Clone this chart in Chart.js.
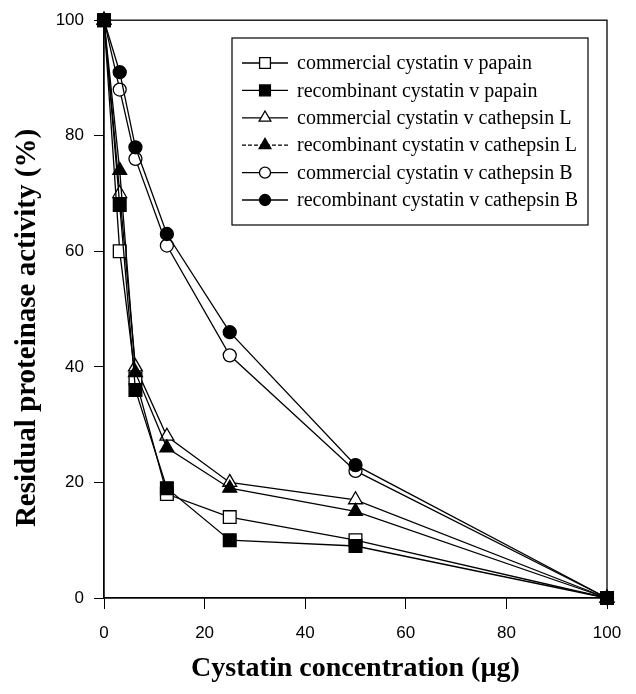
<!DOCTYPE html>
<html>
<head>
<meta charset="utf-8">
<script src="https://cdn.jsdelivr.net/npm/chart.js@4/dist/chart.umd.min.js"></script>
<style>
  html, body { margin: 0; padding: 0; background: #fff; }
  #wrap { width: 636px; height: 694px; position: relative; }
</style>
</head>
<body>
<div id="wrap"><canvas id="grafico"></canvas></div>
<script>
// dados
var concentracoes = [0, 3.125, 6.25, 12.5, 25, 50, 100];
var comPapain     = [100, 60, 38, 18, 14, 10, 0];
var recPapain     = [100, 68, 36, 19, 10, 9, 0];
var comCatL       = [100, 70, 40, 28, 20, 17, 0];
var recCatL       = [100, 74, 39, 26, 19, 15, 0];
var comCatB       = [100, 88, 76, 61, 42, 22, 0];
var recCatB       = [100, 91, 78, 63, 46, 23, 0];

var nomes = [
  "commercial cystatin v papain",
  "recombinant cystatin v papain",
  "commercial cystatin v cathepsin L",
  "recombinant cystatin v cathepsin L",
  "commercial cystatin v cathepsin B",
  "recombinant cystatin v cathepsin B"
];
var valores  = [comPapain, recPapain, comCatL, recCatL, comCatB, recCatB];
var formas   = ["rect", "rect", "triangle", "triangle", "circle", "circle"];
var raios    = [9, 9, 8, 8, 6.5, 6.5];
var cheios   = [false, true, false, true, false, true];
var ticksY   = [0, 20, 40, 60, 80, 100];
var ticksX   = [0, 20, 40, 60, 80, 100];
var tituloX  = "Cystatin concentration (µg)";
var tituloY  = "Residual proteinase activity (%)";

function pontos(serie) {
  return concentracoes.map(function(x, i) { return { x: x, y: serie[i] }; });
}

var datasets = valores.map(function(serie, i) {
  return {
    label: nomes[i],
    data: pontos(serie),
    borderColor: "#000",
    borderWidth: 1.3,
    pointStyle: formas[i],
    pointRadius: raios[i],
    pointBackgroundColor: cheios[i] ? "#000" : "#fff",
    pointBorderColor: "#000",
    pointBorderWidth: 1.3,
    tension: 0,
    fill: false,
    clip: false,
    order: cheios[i] ? 0 : 1
  };
});

// moldura do gráfico + título do eixo Y
var moldura = {
  id: "moldura",
  afterDatasetsDraw: function(chart) {
    var a = chart.chartArea, ctx = chart.ctx;
    ctx.save();
    ctx.strokeStyle = "#000";
    ctx.lineWidth = 1.3;
    ctx.strokeRect(a.left, a.top, a.right - a.left, a.bottom - a.top);

    ctx.translate(35, 328);
    ctx.rotate(-Math.PI / 2);
    ctx.font = "bold 29px 'Liberation Serif', 'Times New Roman', serif";
    ctx.fillStyle = "#000";
    ctx.textAlign = "center";
    ctx.textBaseline = "alphabetic";
    ctx.fillText(tituloY, 0, 0);
    ctx.restore();
  }
};

// legenda em caixa, linha + marcador
var legendaCaixa = {
  id: "legendaCaixa",
  afterDraw: function(chart) {
    var ctx = chart.ctx;
    var x0 = 232, y0 = 38, w = 356, h = 187;
    ctx.save();
    ctx.fillStyle = "#fff";
    ctx.fillRect(x0, y0, w, h);
    ctx.strokeStyle = "#000";
    ctx.lineWidth = 1.2;
    ctx.strokeRect(x0, y0, w, h);
    ctx.font = "20px 'Liberation Serif', 'Times New Roman', serif";
    ctx.textBaseline = "middle";
    for (var i = 0; i < nomes.length; i++) {
      var y = 63 + i * 27.4;
      ctx.strokeStyle = "#000";
      ctx.lineWidth = 1.3;
      ctx.setLineDash(i === 3 ? [4, 2] : []);
      ctx.beginPath();
      ctx.moveTo(242, y);
      ctx.lineTo(288, y);
      ctx.stroke();
      ctx.setLineDash([]);
      ctx.fillStyle = cheios[i] ? "#000" : "#fff";
      Chart.helpers.drawPoint(ctx, {
        pointStyle: formas[i],
        radius: raios[i] * 0.85,
        borderWidth: 1.3,
        rotation: 0
      }, 265, y);
      ctx.fillStyle = "#000";
      ctx.fillText(nomes[i], 297, y + 1);
    }
    ctx.restore();
  }
};

var rotuloFonte = { family: "'Liberation Sans', Arial, sans-serif", size: 17 };
var tituloFonte = { family: "'Liberation Serif', 'Times New Roman', serif", size: 28, weight: "bold" };

new Chart(document.getElementById("grafico"), {
  type: "line",
  data: { datasets: datasets },
  options: {
    responsive: true,
    maintainAspectRatio: false,
    animation: false,
    layout: { padding: { top: 20, right: 29, bottom: 0, left: 0 } },
    plugins: {
      legend: { display: false },
      tooltip: { enabled: false }
    },
    scales: {
      x: {
        type: "linear",
        min: 0,
        max: 100,
        afterBuildTicks: function(s) { s.ticks = ticksX.map(function(v) { return { value: v }; }); },
        afterFit: function(s) { s.height = 96; },
        ticks: { color: "#000", font: rotuloFonte, padding: 14, maxRotation: 0 },
        grid: { drawOnChartArea: false, drawTicks: true, tickLength: 11, color: "#000", lineWidth: 1 },
        border: { display: true, color: "#000", width: 1.3 },
        title: {
          display: true,
          text: tituloX,
          color: "#000",
          font: tituloFonte,
          padding: { top: 0, bottom: 8 }
        }
      },
      y: {
        type: "linear",
        min: 0,
        max: 100,
        afterBuildTicks: function(s) { s.ticks = ticksY.map(function(v) { return { value: v }; }); },
        afterFit: function(s) { s.width = 104; },
        ticks: { color: "#000", font: rotuloFonte, padding: 10 },
        grid: { drawOnChartArea: false, drawTicks: true, tickLength: 10, color: "#000", lineWidth: 1 },
        border: { display: true, color: "#000", width: 1.3 }
      }
    }
  },
  plugins: [moldura, legendaCaixa]
});
</script>
</body>
</html>
